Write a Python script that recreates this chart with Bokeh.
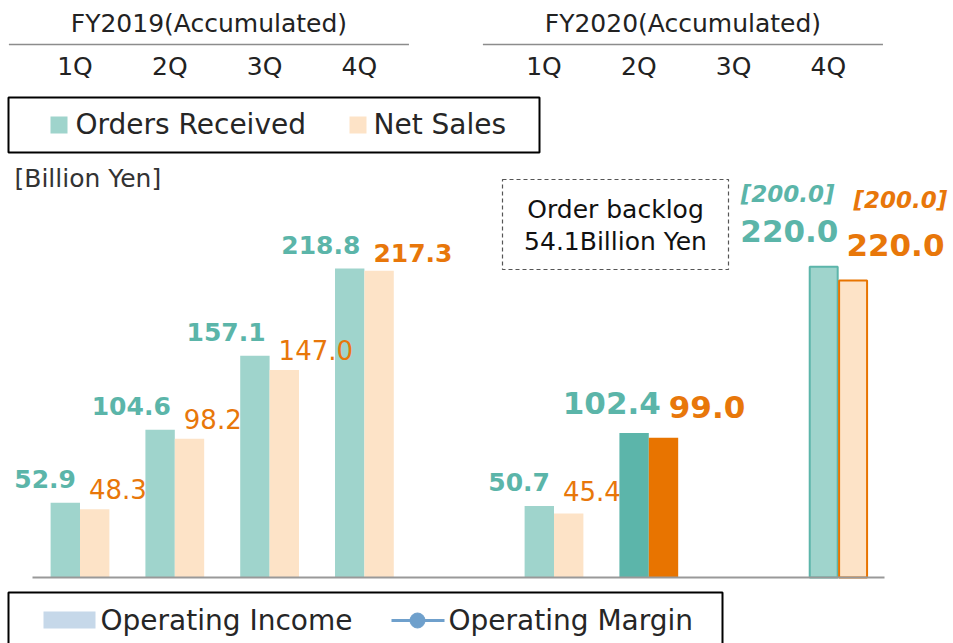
from bokeh.plotting import figure
from bokeh.models import Range1d
from bokeh.embed import file_html
from bokeh.resources import INLINE
from bokeh.core.properties import value

# ---------------- data ----------------
fiscal_years = ["FY2019(Accumulated)", "FY2020(Accumulated)"]
quarters = ["1Q", "2Q", "3Q", "4Q"]
orders_fy2019 = [52.9, 104.6, 157.1, 218.8]
sales_fy2019 = [48.3, 98.2, 147.0, 217.3]
orders_fy2020 = [50.7, 102.4, None, 220.0]
sales_fy2020 = [45.4, 99.0, None, 210.4]          # bar heights as drawn
orders_fy2020_labels = ["50.7", "102.4", "", "220.0"]
sales_fy2020_labels = ["45.4", "99.0", "", "220.0"]
previous_forecast = ["[200.0]", "[200.0]"]
backlog_lines = ["Order backlog", "54.1Billion Yen"]
unit_label = "[Billion Yen]"
legend_top = ["Orders Received", "Net Sales"]
legend_bottom = ["Operating Income", "Operating Margin"]

# ---------------- style ----------------
FONT = value("DejaVu Sans")
TEAL_L = "#9fd4cc"
PEACH = "#fde3c7"
TEAL_D = "#5cb5aa"
ORANGE = "#e87400"
TEAL_TXT = "#5bb5a9"
ORANGE_TXT = "#e8770a"
TXT = "#222222"
BLUE_L = "#c6d8e9"
BLUE = "#6fa0cc"

W, H = 953, 643
SX = 94.8      # px per slot
SY = 1.412     # px per billion yen
X0 = 79.5      # canvas px of slot 0
BASE = 577     # canvas px of zero line

p = figure(width=W, height=H, output_backend="svg", toolbar_location=None,
           x_range=Range1d(-X0 / SX, (W - X0) / SX),
           y_range=Range1d(-(H - BASE) / SY, BASE / SY),
           x_axis_location=None, y_axis_location=None, min_border=0)
p.grid.visible = False
p.outline_line_color = None


def fx(px):
    return (px - X0) / SX


def fy(py):
    return (BASE - py) / SY


def label(x, y, text, color, size, style, align, xo, yo, baseline="middle"):
    p.text(x=[x], y=[y], text=[text], text_color=color, text_font=FONT,
           text_font_size=f"{size}px", text_font_style=style, text_align=align,
           text_baseline=baseline, x_offset=xo, y_offset=yo)


slots = {fiscal_years[0]: [i for i in range(4)], fiscal_years[1]: [5 + i for i in range(4)]}
BW = 0.31
OFF = BW / 2

# ---------------- header ----------------
for k, fyname in enumerate(fiscal_years):
    s = slots[fyname]
    x_a, x_b = s[0] - 0.75, s[-1] + 0.47
    p.segment(x0=[x_a], y0=[fy(44)], x1=[x_b], y1=[fy(44)], line_color="#8c8c8c", line_width=1.5)
    label((x_a + x_b) / 2, fy(23), fyname, TXT, 25, "normal", "center", 0, 0)
    for i, q in enumerate(quarters):
        label(s[i], fy(66), q, TXT, 25, "normal", "center", -5 if k == 0 else -10, 0)

# ---------------- top legend ----------------
p.quad(left=[fx(8)], right=[fx(539)], top=[fy(97)], bottom=[fy(152)],
       fill_color=None, line_color="black", line_width=2)
p.quad(left=[fx(50)], right=[fx(67)], top=[fy(116)], bottom=[fy(133)], fill_color=TEAL_L, line_color=None)
label(fx(75), fy(124), legend_top[0], "#262626", 28, "normal", "left", 0, 0)
p.quad(left=[fx(349)], right=[fx(366)], top=[fy(116)], bottom=[fy(133)], fill_color=PEACH, line_color=None)
label(fx(373), fy(124), legend_top[1], "#262626", 28, "normal", "left", 0, 0)

label(fx(14), fy(178), unit_label, "#333333", 25, "normal", "left", 0, 0)

# ---------------- backlog box ----------------
p.quad(left=[fx(502)], right=[fx(728)], top=[fy(179)], bottom=[fy(269)],
       fill_color=None, line_color="#555555", line_width=1.2, line_dash="4 3")
label(fx(615), fy(209), backlog_lines[0], "#111111", 25, "normal", "center", 0, 0)
label(fx(615), fy(241), backlog_lines[1], "#111111", 25, "normal", "center", 0, 0)

# ---------------- bars FY2019 ----------------
s19 = slots[fiscal_years[0]]
p.vbar(x=[s - OFF for s in s19], top=orders_fy2019, bottom=0, width=BW, fill_color=TEAL_L, line_color=None)
p.vbar(x=[s + OFF for s in s19], top=sales_fy2019, bottom=0, width=BW, fill_color=PEACH, line_color=None)
for i, q in enumerate(quarters):
    label(s19[i], orders_fy2019[i], f"{orders_fy2019[i]:.1f}", TEAL_TXT, 25, "bold", "right", -4, -24)
    bold = q == "4Q"
    label(s19[i], sales_fy2019[i], f"{sales_fy2019[i]:.1f}", ORANGE_TXT,
          25 if bold else 26, "bold" if bold else "normal", "left", 9, -18 if bold else -20)

# ---------------- bars FY2020 ----------------
s20 = slots[fiscal_years[1]]
for i, q in enumerate(quarters):
    o, sv = orders_fy2020[i], sales_fy2020[i]
    if o is None:
        continue
    x = s20[i]
    if q == "1Q":
        p.vbar(x=[x - OFF], top=[o], width=BW, fill_color=TEAL_L, line_color=None)
        p.vbar(x=[x + OFF], top=[sv], width=BW, fill_color=PEACH, line_color=None)
        label(x, o, orders_fy2020_labels[i], TEAL_TXT, 25, "bold", "right", -4, -24)
        label(x, sv, sales_fy2020_labels[i], ORANGE_TXT, 26, "normal", "left", 9, -22)
    elif q == "2Q":
        p.vbar(x=[x - OFF], top=[o], width=BW, fill_color=TEAL_D, line_color=None)
        p.vbar(x=[x + OFF], top=[sv], width=BW, fill_color=ORANGE, line_color=None)
        label(x, o, orders_fy2020_labels[i], TEAL_TXT, 31, "bold", "right", 12, -30)
        label(x, sv, sales_fy2020_labels[i], ORANGE_TXT, 31, "bold", "left", 20, -31)
    else:
        p.vbar(x=[x - OFF], top=[o], width=BW - 0.015, fill_color=TEAL_L, line_color=TEAL_D, line_width=2)
        p.vbar(x=[x + OFF], top=[sv], width=BW - 0.015, fill_color=PEACH, line_color=ORANGE, line_width=2)
        label(x, o, orders_fy2020_labels[i], TEAL_TXT, 31, "bold", "right", 0, -36)
        label(x, sv, sales_fy2020_labels[i], ORANGE_TXT, 31, "bold", "left", 8, -35)
        label(x, o, previous_forecast[0], TEAL_TXT, 23, "bold italic", "right", -4, -73)
        label(x, sv, previous_forecast[1], ORANGE_TXT, 23, "bold italic", "left", 15, -80)

# zero line
p.segment(x0=[fx(32)], y0=[0], x1=[fx(884)], y1=[0], line_color="#999999", line_width=2)

# ---------------- bottom legend ----------------
p.quad(left=[fx(8)], right=[fx(722)], top=[fy(592)], bottom=[fy(690)],
       fill_color=None, line_color="black", line_width=2)
p.quad(left=[fx(43)], right=[fx(95)], top=[fy(611)], bottom=[fy(628)], fill_color=BLUE_L, line_color=None)
label(fx(100), fy(620), legend_bottom[0], "#262626", 28, "normal", "left", 0, 0)
p.segment(x0=[fx(391)], y0=[fy(620)], x1=[fx(444)], y1=[fy(620)], line_color=BLUE, line_width=3)
p.scatter(x=[fx(417)], y=[fy(620)], size=15, fill_color=BLUE, line_color=BLUE)
label(fx(448), fy(620), legend_bottom[1], "#262626", 28, "normal", "left", 0, 0)

open("out.html", "w").write(file_html(p, INLINE))
